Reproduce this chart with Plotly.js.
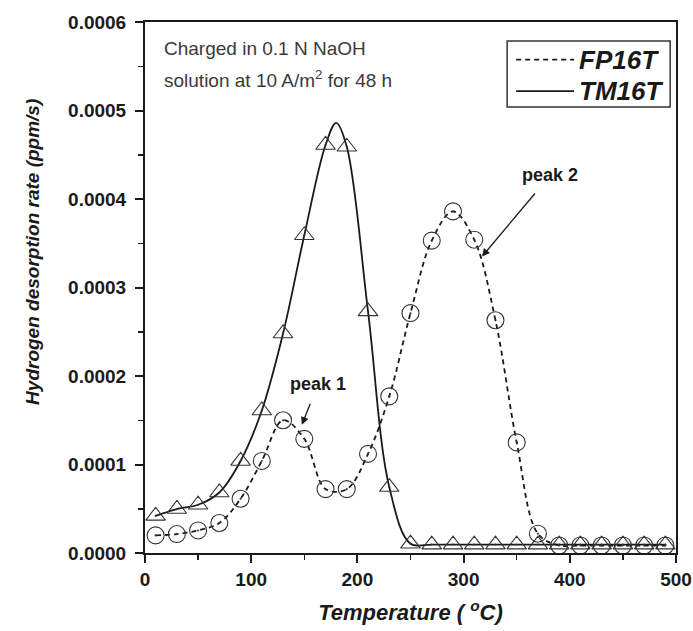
<!DOCTYPE html>
<html>
<head>
<meta charset="utf-8">
<script src="https://cdn.plot.ly/plotly-3.0.1.min.js"></script>
<style>
  html, body { margin: 0; padding: 0; background: #fff; }
  #chart { width: 693px; height: 631px; }
</style>
</head>
<body>
<div id="chart"></div>
<script>
// Hydrogen thermal desorption spectra (ppm/s vs °C)
const temperature = [10, 30, 50, 70, 90, 110, 130, 150, 170, 190, 210, 230, 250,
                     270, 290, 310, 330, 350, 370, 390, 410, 430, 450, 470, 490];

// FP16T (dashed, open circles)
const fp16t = [0.0000199, 0.0000214, 0.0000255, 0.0000339, 0.0000613, 0.000104, 0.000150,
               0.000129, 0.0000722, 0.0000722, 0.000112, 0.000177, 0.000271,
               0.000353, 0.000386, 0.000354, 0.000263, 0.000125, 0.0000218,
               0.0000085, 0.0000085, 0.0000085, 0.0000085, 0.0000085, 0.0000085];

// TM16T (solid, open triangles)
const tm16t = [0.000042, 0.0000497, 0.0000545, 0.0000684, 0.000104, 0.000161, 0.000248,
               0.000359, 0.000461, 0.000459, 0.000273, 0.0000745, 0.0000105,
               0.0000095, 0.0000095, 0.0000095, 0.0000095, 0.0000095, 0.0000095,
               0.0000095, 0.0000095, 0.0000095, 0.0000095, 0.0000095, 0.0000095];

// TM16T fitted curve: the measured points plus the curve maximum near 180 °C
const tm16tCurveT = [10, 30, 50, 70, 90, 110, 130, 150, 170, 180, 190, 210, 230, 250,
                     270, 290, 310, 330, 350, 370, 390, 410, 430, 450, 470, 490];
const tm16tCurve = [0.000042, 0.0000497, 0.0000545, 0.0000684, 0.000104, 0.000161, 0.000248,
                    0.000359, 0.000461, 0.000486, 0.000459, 0.000273, 0.0000745, 0.0000105,
                    0.0000095, 0.0000095, 0.0000095, 0.0000095, 0.0000095, 0.0000095,
                    0.0000095, 0.0000095, 0.0000095, 0.0000095, 0.0000095, 0.0000095];

const seriesNames = ['FP16T', 'TM16T'];
const xTicks = [0, 100, 200, 300, 400, 500];
const yTicks = [0, 0.0001, 0.0002, 0.0003, 0.0004, 0.0005, 0.0006];
const yTickText = ['0.0000', '0.0001', '0.0002', '0.0003', '0.0004', '0.0005', '0.0006'];

const ink = '#1a1a1a';
const markerInk = '#333333';
const fontFamily = 'Liberation Sans, Arial, sans-serif';
const fpDash = '5px,4px';

const traces = [
  {
    x: temperature, y: fp16t, name: seriesNames[0], mode: 'lines',
    line: { color: ink, width: 1.8, dash: fpDash, shape: 'spline', smoothing: 1 },
    hoverinfo: 'skip'
  },
  {
    x: tm16tCurveT, y: tm16tCurve, name: seriesNames[1], mode: 'lines',
    line: { color: ink, width: 1.8, shape: 'spline', smoothing: 1 },
    hoverinfo: 'skip'
  },
  {
    x: temperature, y: fp16t, mode: 'markers', name: seriesNames[0],
    marker: { symbol: 'circle-open-dot', size: 17, color: markerInk, line: { width: 1.1, color: markerInk } }
  },
  {
    x: temperature, y: tm16t, mode: 'markers', name: seriesNames[1],
    marker: { symbol: 'triangle-up-open-dot', size: 17, color: markerInk, line: { width: 1.1, color: markerInk } }
  }
];

const tickFont = { family: fontFamily, size: 19, color: ink, weight: 'bold' };
const titleFont = { family: fontFamily, size: 22, color: ink, weight: 'bold', style: 'italic' };
const legendFont = { family: fontFamily, size: 26, color: ink, weight: 'bold', style: 'italic' };
const noteFont = { family: fontFamily, size: 19, color: '#3a3a3a' };
const peakFont = { family: fontFamily, size: 18, color: ink, weight: 'bold' };

// Legend drawn as a framed box with line samples
const legendBox = { x0: 0.682, x1: 0.989, y0: 0.840, y1: 0.964 };
const legendRows = [0.929, 0.870];
const legendLineX = [0.699, 0.808];

const shapes = [
  { type: 'rect', xref: 'paper', yref: 'paper', x0: legendBox.x0, x1: legendBox.x1, y0: legendBox.y0, y1: legendBox.y1,
    line: { color: '#333', width: 1.5 }, fillcolor: '#fff', layer: 'above' },
  { type: 'line', xref: 'paper', yref: 'paper', x0: legendLineX[0], x1: legendLineX[1], y0: legendRows[0], y1: legendRows[0],
    line: { color: ink, width: 1.8, dash: fpDash }, layer: 'above' },
  { type: 'line', xref: 'paper', yref: 'paper', x0: legendLineX[0], x1: legendLineX[1], y0: legendRows[1], y1: legendRows[1],
    line: { color: ink, width: 1.8 }, layer: 'above' }
];

const layout = {
  width: 693, height: 631,
  margin: { l: 145, r: 17, t: 22, b: 78 },
  paper_bgcolor: '#fff', plot_bgcolor: '#fff',
  showlegend: false,
  xaxis: {
    range: [0, 500], tickvals: xTicks, ticktext: xTicks.map(String),
    showline: true, mirror: true, linecolor: ink, linewidth: 2,
    ticks: 'outside', ticklen: 8, tickwidth: 2, tickcolor: ink,
    minor: { dtick: 50, tick0: 0, ticks: 'outside', ticklen: 5, tickwidth: 1.5, tickcolor: ink },
    showgrid: false, zeroline: false, tickfont: tickFont,
    title: { text: 'Temperature ( <sup>o</sup>C)', font: titleFont, standoff: 16 }
  },
  yaxis: {
    range: [0, 0.0006], tickvals: yTicks, ticktext: yTickText,
    showline: true, mirror: true, linecolor: ink, linewidth: 2,
    ticks: 'outside', ticklen: 8, tickwidth: 2, tickcolor: ink,
    minor: { dtick: 0.00005, tick0: 0, ticks: 'outside', ticklen: 5, tickwidth: 1.5, tickcolor: ink },
    showgrid: false, zeroline: false, tickfont: tickFont, ticklabelstandoff: 5
  },
  shapes: shapes,
  annotations: [
    { xref: 'paper', yref: 'paper', x: -0.211, y: 0.567, xanchor: 'center', yanchor: 'middle', showarrow: false,
      textangle: -90, text: 'Hydrogen desorption rate (ppm/s)', font: { family: fontFamily, size: 19, color: ink, weight: 'bold', style: 'italic' } },
    { xref: 'paper', yref: 'paper', x: legendLineX[1] + 0.006, y: legendRows[0], xanchor: 'left', yanchor: 'middle',
      showarrow: false, text: seriesNames[0], font: legendFont },
    { xref: 'paper', yref: 'paper', x: legendLineX[1] + 0.006, y: legendRows[1], xanchor: 'left', yanchor: 'middle',
      showarrow: false, text: seriesNames[1], font: legendFont },
    { xref: 'paper', yref: 'paper', x: 0.032, y: 0.951, xanchor: 'left', yanchor: 'middle', showarrow: false,
      text: 'Charged in 0.1 N NaOH', font: noteFont },
    { xref: 'paper', yref: 'paper', x: 0.032, y: 0.893, xanchor: 'left', yanchor: 'middle', showarrow: false,
      text: 'solution at 10 A/m<sup>2</sup> for 48 h', font: noteFont },
    { x: 147.7, y: 0.0001448, ax: 163, ay: 0.000191, axref: 'x', ayref: 'y',
      text: 'peak 1', showarrow: true, arrowhead: 2, arrowsize: 1.2, arrowwidth: 1.3, arrowcolor: ink,
      standoff: 0, startstandoff: 9, font: peakFont },
    { x: 317.3, y: 0.000335, ax: 381.7, ay: 0.000427, axref: 'x', ayref: 'y',
      text: 'peak 2', showarrow: true, arrowhead: 2, arrowsize: 1.2, arrowwidth: 1.3, arrowcolor: ink,
      standoff: 0, startstandoff: 9, font: peakFont }
  ]
};

Plotly.newPlot('chart', traces, layout, { displayModeBar: false, staticPlot: true });
</script>
</body>
</html>
